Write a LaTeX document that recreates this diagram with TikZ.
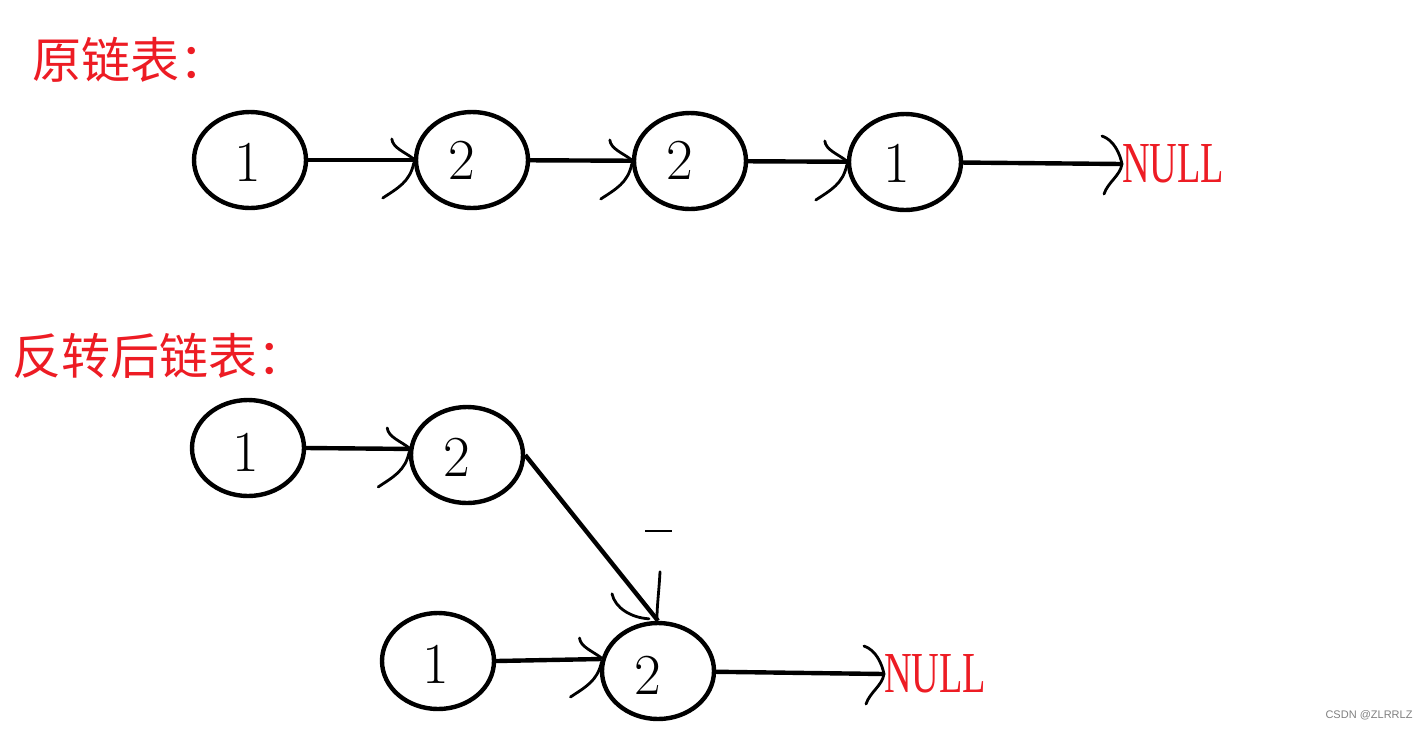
\documentclass[tikz,border=0pt]{standalone}
\usepackage{fontspec}
\usetikzlibrary{shapes.geometric,calc}
\newfontfamily\cjk{Noto Sans CJK SC}
\newfontfamily\timesfnt{Liberation Serif}
\newfontfamily\wmfont{Liberation Sans}
\definecolor{pred}{RGB}{237,28,36}
\tikzset{
  ell/.style={ellipse, draw, line width=4.4pt, minimum width=112pt, minimum height=96pt, inner sep=0pt},
  num/.style={font=\fontsize{58}{60}\selectfont, inner sep=0pt},
  link/.style={line width=4.4pt},
  barb/.style={line width=2.8pt, line cap=round},
  titletxt/.style={text=pred, font=\cjk\fontsize{49}{52}\selectfont, anchor=west, inner sep=0pt},
  nulltxt/.style={text=pred, font=\timesfnt\fontsize{58}{60}\selectfont, anchor=west, inner sep=0pt},
  htip/.pic={
    \draw[barb] (-22,-21) .. controls (-21,-12) and (-9,-8) .. (0,-1);
    \draw[barb] (-31,38) .. controls (-16,28) and (-4,22) .. (0,3);
  },
  ntip/.pic={
    \draw[barb] (-20,-28) .. controls (-8,-24) and (-2,-10) .. (0,0);
    \draw[barb] (0,0) .. controls (-2,12) and (-14,18) .. (-18,30);
  }
}
\begin{document}
\begin{tikzpicture}[x=1pt,y=-1pt]
\useasboundingbox (0,0) rectangle (1426,729);
% titles
\node[titletxt] (t1) at (32,60) {原链表：};
\node[titletxt] (t2) at (12,356) {反转后链表：};
% top row
\node[ell] (a1) at (250,160) {};
\node[ell] (a2) at (472,160) {};
\node[ell] (a3) at (690,161) {};
\node[ell] (a4) at (905,162) {};
\node[num] (a1t) at (248,162) {1};
\node[num] (a2t) at (462,160) {2};
\node[num] (a3t) at (680,160) {2};
\node[num] (a4t) at (897,163) {1};
\node[nulltxt] (n1) at (1122,164) {\scalebox{0.66}[1]{NULL}};
\draw[link] (a1) -- (a2);
\draw[link] (a2) -- (a3);
\draw[link] (a3) -- (a4);
\draw[link] (a4) -- (n1.west);
\pic at (a2.west) {htip};
\pic at (a3.west) {htip};
\pic at (a4.west) {htip};
\pic at (n1.west) {ntip};
% bottom
\node[ell] (b1) at (248,448) {};
\node[ell] (b2) at (467,455) {};
\node[ell] (b3) at (438,661) {};
\node[ell] (b4) at (658,671) {};
\node[num] (b1t) at (246,452) {1};
\node[num] (b2t) at (457,457) {2};
\node[num] (b3t) at (436,664) {1};
\node[num] (b4t) at (648,675) {2};
\node[nulltxt] (n2) at (884,674) {\scalebox{0.66}[1]{NULL}};
\draw[link] (b1.east) -- (b2.174);
\draw[link] (b3.east) -- (b4.168);
\draw[link] (b4) -- (n2.west);
\draw[link] (b2.east) -- (b4.north);
\pic at (b2.174) {htip};
\pic at (b4.168) {htip};
\pic at (n2.west) {ntip};
\draw[barb] ($(b4.north)+(-46,-27)$) .. controls ($(b4.north)+(-43,-13)$) and ($(b4.north)+(-27,-3)$) .. ($(b4.north)+(-9,-2)$);
\draw[barb] ($(b4.north)+(2,-49)$) .. controls ($(b4.north)+(1,-30)$) and ($(b4.north)+(-1,-15)$) .. ($(b4.north)+(-1,-3)$);
\coordinate (d1) at (645,531);
\coordinate (d2) at (672,531);
\draw[line width=1.5pt] (d1) -- (d2);
\node[font=\wmfont\fontsize{11}{12}\selectfont, text=gray] (wm) at (1369,715) {CSDN @ZLRRLZ};
\end{tikzpicture}
\end{document}
